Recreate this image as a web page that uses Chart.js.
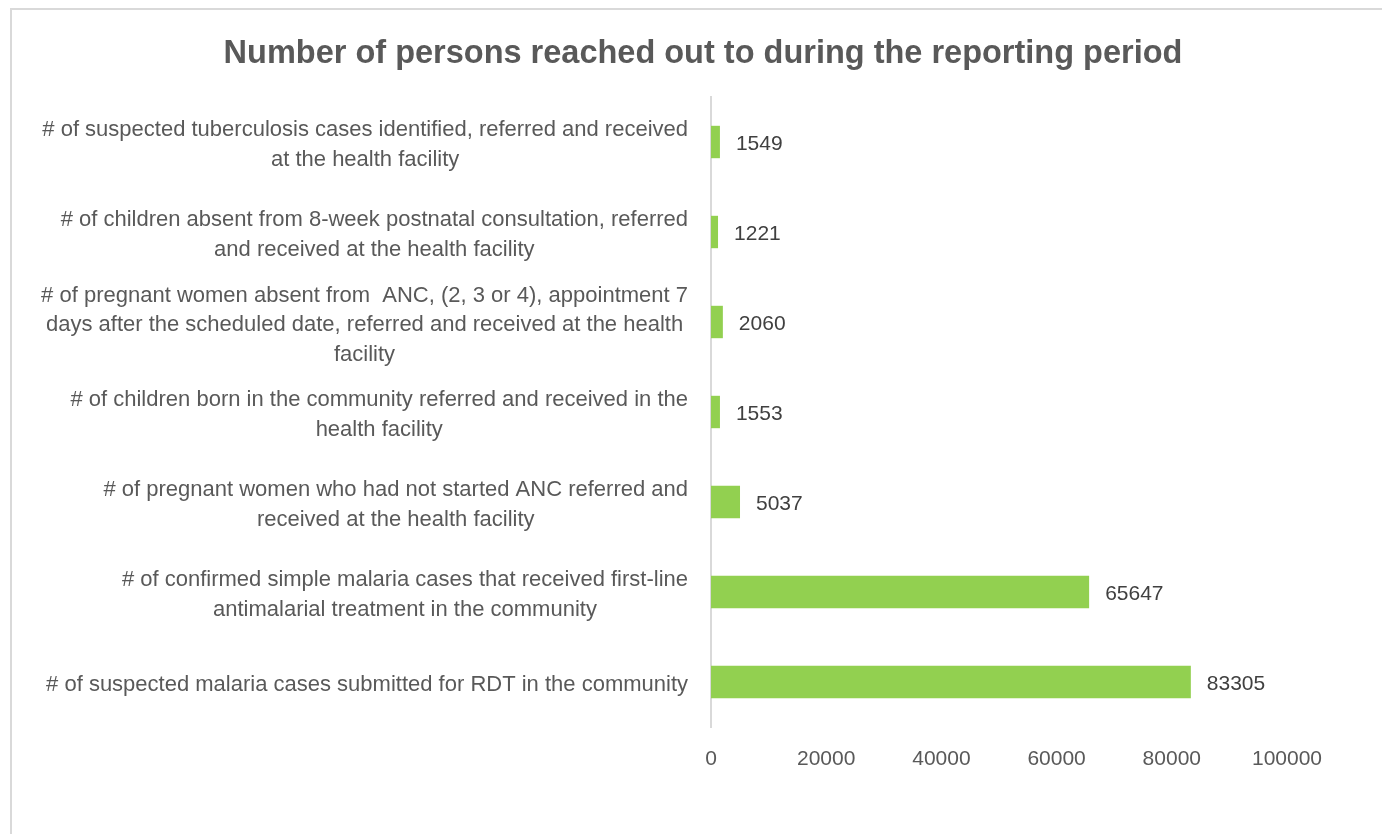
<!DOCTYPE html>
<html>
<head>
<meta charset="utf-8">
<script src="https://cdn.jsdelivr.net/npm/chart.js@4.4.1/dist/chart.umd.min.js"></script>
<style>
    html, body { margin: 0; padding: 0; background: #fff; overflow: hidden; width: 1382px; height: 834px; }
    #box { position: absolute; left: 10px; top: 8px; width: 1384px; height: 840px; border: 2px solid #d9d9d9; box-sizing: border-box; background: #fff; }
    canvas { display: block; }
</style>
</head>
<body>
<div id="box"><canvas id="chart" width="1380" height="836"></canvas></div>
<script>
const categories = [
    ['# of suspected tuberculosis cases identified, referred and received', 'at the health facility'],
    ['# of children absent from 8-week postnatal consultation, referred', 'and received at the health facility'],
    ['# of pregnant women absent from  ANC, (2, 3 or 4), appointment 7', 'days after the scheduled date, referred and received at the health', 'facility'],
    ['# of children born in the community referred and received in the', 'health facility'],
    ['# of pregnant women who had not started ANC referred and', 'received at the health facility'],
    ['# of confirmed simple malaria cases that received first-line', 'antimalarial treatment in the community'],
    ['# of suspected malaria cases submitted for RDT in the community']
];
const values = [1549, 1221, 2060, 1553, 5037, 65647, 83305];
const xTicks = [0, 20000, 40000, 60000, 80000, 100000];

const FONT = '"Liberation Sans", Arial, sans-serif';
const LABEL_SIZE = 22;
const NUM_SIZE = 21;

// category labels: each block right-aligned to the axis, lines centred inside the block
const categoryLabels = {
    id: 'categoryLabels',
    afterDraw(chart) {
        const ctx = chart.ctx;
        const yScale = chart.scales.y;
        const right = chart.chartArea.left - 23;
        const lineH = 29.5;
        ctx.save();
        ctx.font = LABEL_SIZE + 'px ' + FONT;
        ctx.fillStyle = '#595959';
        ctx.textAlign = 'center';
        ctx.textBaseline = 'middle';
        categories.forEach(function (lines, i) {
            const cy = yScale.getPixelForValue(i) + 3;
            const blockW = Math.max.apply(null, lines.map(function (l) { return ctx.measureText(l).width; }));
            const cx = right - blockW / 2;
            const top = cy - (lines.length - 1) * lineH / 2;
            lines.forEach(function (l, j) {
                ctx.fillText(l, cx, top + j * lineH);
            });
        });
        ctx.restore();
    }
};

// value labels at the end of each bar
const valueLabels = {
    id: 'valueLabels',
    afterDatasetsDraw(chart) {
        const ctx = chart.ctx;
        const meta = chart.getDatasetMeta(0);
        ctx.save();
        ctx.font = NUM_SIZE + 'px ' + FONT;
        ctx.fillStyle = '#404040';
        ctx.textAlign = 'left';
        ctx.textBaseline = 'middle';
        meta.data.forEach(function (bar, i) {
            ctx.fillText(String(values[i]), bar.x + 16, bar.y + 2);
        });
        ctx.restore();
    }
};

new Chart(document.getElementById('chart').getContext('2d'), {
    type: 'bar',
    data: {
        labels: categories.map(function (c) { return c.join(' '); }),
        datasets: [{
            data: values,
            backgroundColor: '#92d050',
            borderWidth: 0,
            barPercentage: 0.9,
            categoryPercentage: 0.4
        }]
    },
    options: {
        indexAxis: 'y',
        responsive: false,
        animation: false,
        layout: { padding: { left: 107, right: 105, bottom: 59, top: 0 } },
        plugins: {
            legend: { display: false },
            tooltip: { enabled: false },
            title: {
                display: true,
                text: 'Number of persons reached out to during the reporting period',
                color: '#595959',
                font: { family: FONT, size: 32.5, weight: 'bold' },
                padding: { top: 25, bottom: 23 }
            }
        },
        scales: {
            y: {
                grid: { display: false, drawTicks: false },
                border: { display: true, color: '#d9d9d9', width: 2 },
                ticks: { display: false },
                afterFit: function (scale) { scale.width = 592; }
            },
            x: {
                min: 0,
                max: 100000,
                afterBuildTicks: function (scale) {
                    scale.ticks = xTicks.map(function (v) { return { value: v }; });
                },
                grid: { display: false, drawTicks: false },
                border: { display: false },
                ticks: {
                    color: '#595959',
                    padding: 20,
                    maxRotation: 0,
                    font: { family: FONT, size: NUM_SIZE },
                    callback: function (v) { return String(v); }
                },
                afterFit: function (scale) { scale.height = 60; }
            }
        }
    },
    plugins: [categoryLabels, valueLabels]
});
</script>
</body>
</html>
